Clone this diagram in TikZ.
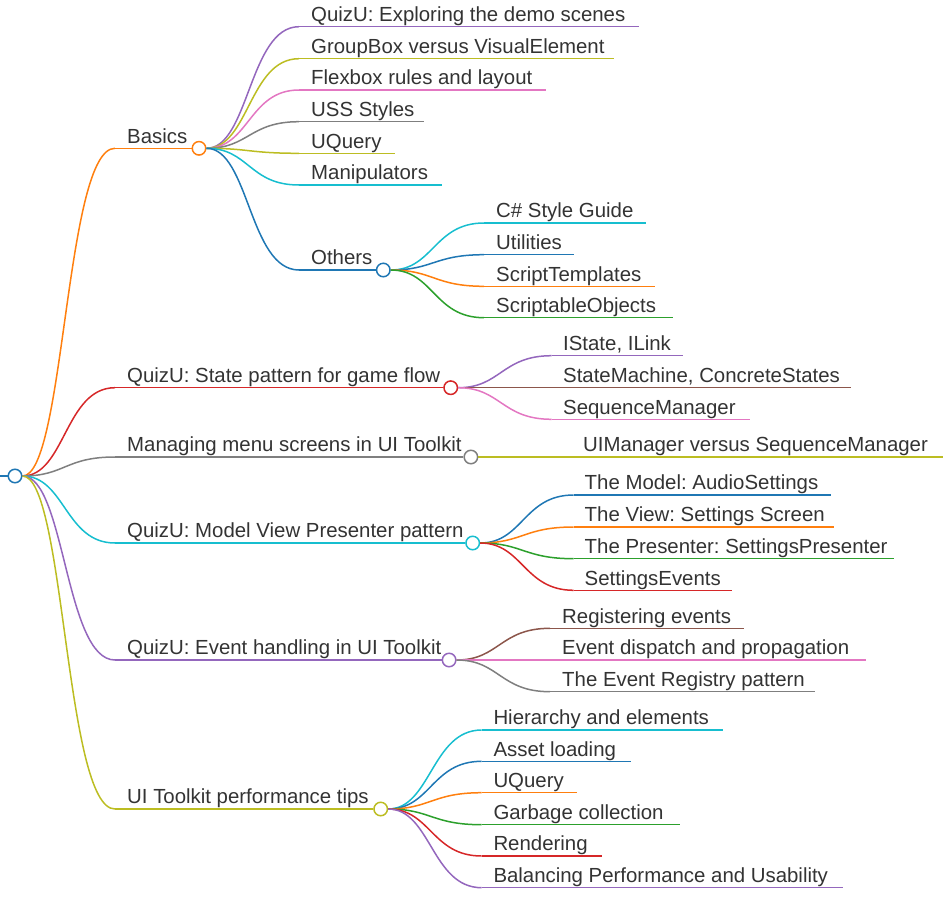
\documentclass[tikz,border=0pt]{standalone}
\usepackage{fontspec}
\setmainfont{Liberation Sans}
\usetikzlibrary{calc,positioning}

\definecolor{cblue}{HTML}{1F77B4}
\definecolor{corange}{HTML}{FF7F0E}
\definecolor{cgreen}{HTML}{2CA02C}
\definecolor{cred}{HTML}{D62728}
\definecolor{cpurple}{HTML}{9467BD}
\definecolor{cbrown}{HTML}{8C564B}
\definecolor{cpink}{HTML}{E377C2}
\definecolor{cgrey}{HTML}{7F7F7F}
\definecolor{colive}{HTML}{BCBD22}
\definecolor{ccyan}{HTML}{17BECF}
\definecolor{ink}{HTML}{333333}

\begin{document}
\begin{tikzpicture}[x=1pt,y=-1pt,
		dot/.style={circle,draw=#1,fill=white,line width=1.5pt,minimum size=13.5pt,inner sep=0pt},
		lbl/.style={anchor=base west,inner sep=0pt,text=ink,font=\fontsize{20.4}{24}\selectfont\frenchspacing},
		twig/.style={draw=#1,line width=1.5pt,to path={.. controls +(50,0) and +(-50,0) .. (\tikztotarget)}},
		rule/.style={draw=#1,line width=1.5pt}]
	\useasboundingbox (0,0) rectangle (950,902);

	% root
	\coordinate (stub) at (0,476);
	\node[dot=cblue] (root) at (15,476) {};
	\path (stub) edge[rule=cblue] (root);

	% first level
	\foreach \n/\x/\y/\c/\t in {basics/199/148.3/corange/Basics,
			state/450.7/387.7/cred/QuizU: State pattern for game flow,
			menus/470.9/457/cgrey/Managing menu screens in UI Toolkit,
			mvp/472.7/543/ccyan/QuizU: Model View Presenter pattern,
			events/449.1/660/cpurple/QuizU: Event handling in UI Toolkit,
			perf/380.7/809/colive/UI Toolkit performance tips}{
		\node[dot=\c] (\n) at (\x,\y) {};
		\coordinate (\n-s) at (115,\y);
		\node[lbl] (\n-t) at (127,\y-5.3) {\t};
		\path (root) edge[twig=\c] (\n-s) (\n-s) edge[rule=\c] (\n);
	}

	% Basics
	\foreach \y/\e/\c/\t [count=\i] in {26.7/639/cpurple/QuizU: Exploring the demo scenes,
			58.7/614/colive/GroupBox versus VisualElement,
			90/546/cpink/Flexbox rules and layout,
			121.7/424/cgrey/USS Styles,
			153.3/395/colive/UQuery,
			185/442/ccyan/Manipulators}{
		\coordinate (basics-\i-s) at (299,\y);
		\coordinate (basics-\i-e) at (\e,\y);
		\node[lbl] (basics-\i-t) at (311,\y-5.3) {\t};
		\path (basics) edge[twig=\c] (basics-\i-s) (basics-\i-s) edge[rule=\c] (basics-\i-e);
	}
	\node[dot=cblue] (others) at (383.3,270) {};
	\coordinate (others-s) at (299,270);
	\node[lbl] (others-t) at (311,264.7) {Others};
	\path (basics) edge[twig=cblue] (others-s) (others-s) edge[rule=cblue] (others);

	% Others
	\foreach \y/\e/\c/\t [count=\i] in {223/646/ccyan/C\# Style Guide,
			254.7/574/cblue/Utilities,
			286.3/655/corange/ScriptTemplates,
			317.7/673/cgreen/ScriptableObjects}{
		\coordinate (others-\i-s) at (484,\y);
		\coordinate (others-\i-e) at (\e,\y);
		\node[lbl] (others-\i-t) at (496,\y-5.3) {\t};
		\path (others) edge[twig=\c] (others-\i-s) (others-\i-s) edge[rule=\c] (others-\i-e);
	}

	% state pattern
	\foreach \y/\e/\c/\t [count=\i] in {355.7/682.5/cpurple/{IState, ILink},
			387.7/851/cbrown/{StateMachine, ConcreteStates},
			419.3/750/cpink/SequenceManager}{
		\coordinate (state-\i-s) at (551.7,\y);
		\coordinate (state-\i-e) at (\e,\y);
		\node[lbl] (state-\i-t) at (563,\y-5.3) {\t};
		\path (state) edge[twig=\c] (state-\i-s) (state-\i-s) edge[rule=\c] (state-\i-e);
	}

	% menu screens
	\coordinate (menus-1-s) at (572,457);
	\coordinate (menus-1-e) at (943,457);
	\node[lbl] (menus-1-t) at (583,451.7) {UIManager versus SequenceManager};
	\path (menus) edge[twig=colive] (menus-1-s) (menus-1-s) edge[rule=colive] (menus-1-e);

	% model view presenter
	\foreach \y/\e/\c/\t [count=\i] in {495/831/cblue/The Model: AudioSettings,
			527/833.5/corange/The View: Settings Screen,
			558.7/894/cgreen/The Presenter: SettingsPresenter,
			590.3/731.6/cred/SettingsEvents}{
		\coordinate (mvp-\i-s) at (573.7,\y);
		\coordinate (mvp-\i-e) at (\e,\y);
		\node[lbl] (mvp-\i-t) at (584.5,\y-5.3) {\t};
		\path (mvp) edge[twig=\c] (mvp-\i-s) (mvp-\i-s) edge[rule=\c] (mvp-\i-e);
	}

	% event handling
	\foreach \y/\e/\c/\t [count=\i] in {628.3/743.6/cbrown/Registering events,
			660/866.2/cpink/Event dispatch and propagation,
			691.7/815.3/cgrey/The Event Registry pattern}{
		\coordinate (events-\i-s) at (550,\y);
		\coordinate (events-\i-e) at (\e,\y);
		\node[lbl] (events-\i-t) at (562,\y-5.3) {\t};
		\path (events) edge[twig=\c] (events-\i-s) (events-\i-s) edge[rule=\c] (events-\i-e);
	}

	% performance tips
	\foreach \y/\e/\c/\t [count=\i] in {730/722.7/ccyan/Hierarchy and elements,
			761.3/630.7/cblue/Asset loading,
			792.7/577.3/corange/UQuery,
			824.7/680/cgreen/Garbage collection,
			856/601.7/cred/Rendering,
			887.7/843.3/cpurple/Balancing Performance and Usability}{
		\coordinate (perf-\i-s) at (481.7,\y);
		\coordinate (perf-\i-e) at (\e,\y);
		\node[lbl] (perf-\i-t) at (493.3,\y-5.3) {\t};
		\path (perf) edge[twig=\c] (perf-\i-s) (perf-\i-s) edge[rule=\c] (perf-\i-e);
	}
\end{tikzpicture}
\end{document}
